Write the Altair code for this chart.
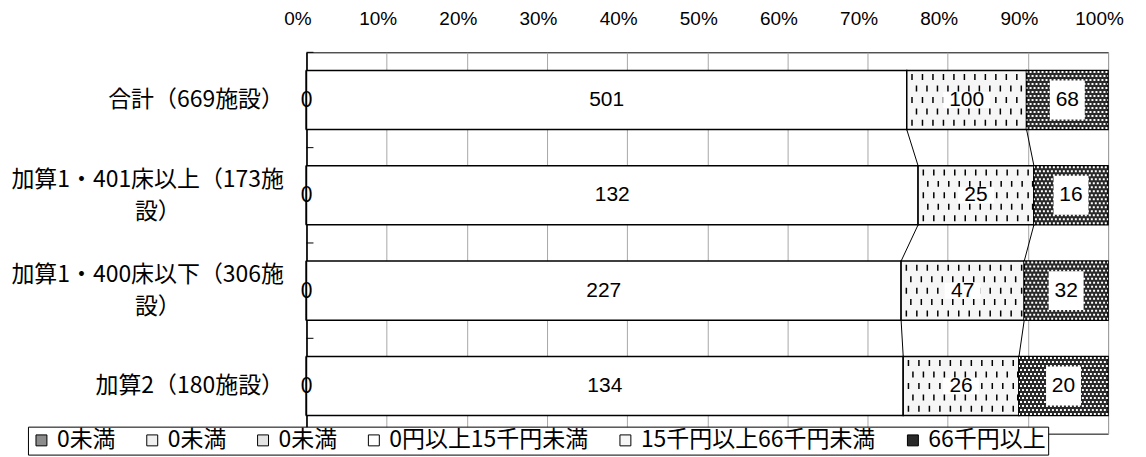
import json
import altair as alt
import pandas as pd

# ---------------- data ----------------
categories = ["合計（669施設）", "加算1・401床以上（173施設）", "加算1・400床以下（306施設）", "加算2（180施設）"]
category_lines = [
    ["合計（669施設）"],
    ["加算1・401床以上（173施", "設）\u3000\u3000\u3000\u3000\u3000\u200b"],
    ["加算1・400床以下（306施", "設）\u3000\u3000\u3000\u3000\u3000\u200b"],
    ["加算2（180施設）"],
]
series_keys = ["s1", "s2", "s3", "s4", "s5", "s6"]
series_names = ["0未満", "0未満", "0未満", "0円以上15千円未満", "15千円以上66千円未満", "66千円以上"]
series_colors = ["#8c8c8c", "#f0f0f0", "#e4e4e4", "#ffffff", "#f6f6f6", "#2a2a2a"]
s1 = [0, 0, 0, 0]
s2 = [0, 0, 0, 0]
s3 = [0, 0, 0, 0]
s4 = [501, 132, 227, 134]
s5 = [100, 25, 47, 26]
s6 = [68, 16, 32, 20]
pct_ticks = [0, 10, 20, 30, 40, 50, 60, 70, 80, 90, 100]

# ---------------- style constants ----------------
HALF = 0.31
LINE_H = 32
dash_offsets = [-0.24, -0.12, 0.0, 0.12, 0.24]
dot_offsets = [k * 0.042 for k in range(-7, 8)]
CJK = "Noto Sans CJK JP"
NUM = "Liberation Sans, Arial"

# ---------------- tables ----------------
series_values = [s1, s2, s3, s4, s5, s6]
rows = []
for i, cat in enumerate(categories):
    total = sum(v[i] for v in series_values)
    cum = 0.0
    for k, key in enumerate(series_keys):
        v = series_values[k][i]
        p = v / total * 100.0
        rows.append(dict(idx=i, cat=cat, key=key, value=v, start=cum, end=cum + p,
                         mid=cum + p / 2, y0=i - HALF, y1=i + HALF,
                         ndig=len(str(v))))
        cum += p
df = pd.DataFrame(rows)

dash_rows = []
for _, r in df[df.key == "s5"].iterrows():
    for j, off in enumerate(dash_offsets):
        dash_rows.append(dict(start=r.start, end=r.end, y=r.idx + off, grp=j % 2))
df_dash = pd.DataFrame(dash_rows)

dot_rows = []
for _, r in df[df.key == "s6"].iterrows():
    for j, off in enumerate(dot_offsets):
        dot_rows.append(dict(start=r.start, end=r.end, y=r.idx + off, grp=j % 2))
df_dot = pd.DataFrame(dot_rows)

sl_rows = []
for key in ["s4", "s5"]:
    ends = df[df.key == key].sort_values("idx")["end"].tolist()
    for i in range(len(categories) - 1):
        sl_rows.append(dict(x=ends[i], x2=ends[i + 1], y=i + HALF, y2=i + 1 - HALF))
df_sl = pd.DataFrame(sl_rows)

df_bound = pd.DataFrame({"b": [i - 0.5 for i in range(len(categories) + 1)]})

# ---------------- scales ----------------
x_scale = alt.Scale(domain=[0, 100], nice=False, zero=False)
y_scale = alt.Scale(domain=[-0.5, len(categories) - 0.5], reverse=True, nice=False, zero=False)

lines_js = json.dumps(category_lines, ensure_ascii=False)
legend_expr = f"{json.dumps(series_names, ensure_ascii=False)}[indexof({json.dumps(series_keys)}, datum.value)]"
ylabel_expr = f"{lines_js}[datum.value]"
ylabel_offset = {"expr": f"-(length({lines_js}[datum.value]) - 1) * {LINE_H / 2}"}

bars = alt.Chart(df).mark_bar(stroke="black", strokeWidth=1.5).encode(
    x=alt.X("start:Q", scale=x_scale, axis=alt.Axis(
        orient="top", values=pct_ticks, labelExpr="datum.value + '%'", title=None,
        ticks=False, tickSize=0, domain=False, grid=True, gridColor="#a8a8a8", gridWidth=1,
        labelFont=NUM, labelFontSize=19, labelColor="black", labelPadding=24, labelOffset=-9,
        labelFlush=False)),
    x2="end:Q",
    y=alt.Y("y0:Q", scale=y_scale, axis=alt.Axis(
        values=list(range(len(categories))), labelExpr=ylabel_expr, title=None,
        ticks=False, tickSize=0, grid=False, domain=True, domainColor="black", domainWidth=1.5,
        labelFont=CJK, labelFontSize=23, labelColor="black", labelPadding=23,
        labelLineHeight=LINE_H, labelAlign="right", labelBaseline="middle",
        labelOffset=ylabel_offset, labelLimit=400, labelOverlap=False)),
    y2="y1:Q",
    color=alt.Color("key:N", scale=alt.Scale(domain=series_keys, range=series_colors),
                    legend=alt.Legend(
                        orient="none", legendX=-279, legendY=375, direction="horizontal",
                        title=None, labelExpr=legend_expr, symbolType="square", symbolSize=120,
                        symbolStrokeColor="black", symbolStrokeWidth=1,
                        labelFont=CJK, labelFontSize=23, labelColor="black", labelLimit=400,
                        columnPadding=25, labelOffset=4, strokeColor="black",
                        fillColor="white", padding=2)),
)

def row_layer(data, grp, **kw):
    return alt.Chart(data).transform_filter(f"datum.grp == {grp}").mark_rule(**kw).encode(
        x=alt.X("start:Q", scale=x_scale),
        x2="end:Q",
        y=alt.Y("y:Q", scale=y_scale),
    )

dash_a = row_layer(df_dash, 0, color="black", strokeWidth=6, strokeDash=[1.5, 9], strokeDashOffset=6)
dash_b = row_layer(df_dash, 1, color="black", strokeWidth=6, strokeDash=[1.5, 9], strokeDashOffset=1.5)
dot_a = row_layer(df_dot, 0, color="white", strokeWidth=2, strokeDash=[2, 2], strokeDashOffset=1)
dot_b = row_layer(df_dot, 1, color="white", strokeWidth=2, strokeDash=[2, 2], strokeDashOffset=3)

series_lines = alt.Chart(df_sl).mark_rule(color="black", strokeWidth=1).encode(
    x=alt.X("x:Q", scale=x_scale), x2="x2:Q",
    y=alt.Y("y:Q", scale=y_scale), y2="y2:Q",
)

box5 = alt.Chart(df).transform_filter("datum.key == 's5'").transform_calculate(
    bw="11 * datum.ndig + 14").mark_tick(
    orient="horizontal", thickness=16, color="white", opacity=1).encode(
    x=alt.X("mid:Q", scale=x_scale),
    y=alt.Y("idx:Q", scale=y_scale),
    size=alt.Size("bw:Q", scale=None, legend=None),
)
box6 = alt.Chart(df).transform_filter("datum.key == 's6'").transform_calculate(
    bw="11 * datum.ndig + 13").mark_tick(
    orient="horizontal", thickness=39, color="white", opacity=1).encode(
    x=alt.X("mid:Q", scale=x_scale),
    y=alt.Y("idx:Q", scale=y_scale),
    size=alt.Size("bw:Q", scale=None, legend=None),
)

seg_text = alt.Chart(df).transform_filter(
    "indexof(['s4','s5','s6'], datum.key) >= 0").mark_text(
    font=NUM, fontSize=21, color="black").encode(
    x=alt.X("mid:Q", scale=x_scale),
    y=alt.Y("idx:Q", scale=y_scale),
    text="value:Q",
)
zero_text = alt.Chart(df).transform_filter("datum.key == 's1'").mark_text(
    font=CJK, fontSize=22, color="black").encode(
    x=alt.X("start:Q", scale=x_scale),
    y=alt.Y("idx:Q", scale=y_scale),
    text="value:Q",
)

ytick = alt.Chart(df_bound).mark_rule(color="black", strokeWidth=1).encode(
    x=alt.value(0), x2=alt.value(7),
    y=alt.Y("b:Q", scale=y_scale),
)

chart = alt.layer(
    bars, dash_a, dash_b, dot_a, dot_b, series_lines, box5, box6, seg_text, zero_text, ytick
).properties(
    width=803, height=382,
    autosize=alt.AutoSizeParams(type="none"),
    padding={"left": 299, "top": 44, "right": 30, "bottom": 22},
).configure(background="white").configure_view(stroke="black", strokeWidth=1)

chart.save("out.html", embed_options={"renderer": "svg", "actions": False})
